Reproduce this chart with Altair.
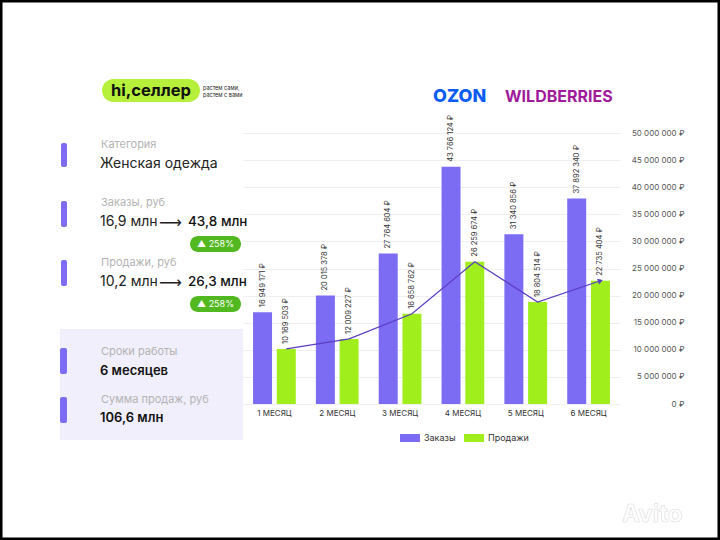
import altair as alt
import pandas as pd

months = ["1 МЕСЯЦ", "2 МЕСЯЦ", "3 МЕСЯЦ", "4 МЕСЯЦ", "5 МЕСЯЦ", "6 МЕСЯЦ"]
series_names = ["Заказы", "Продажи"]
orders = [16949171, 20015378, 27764604, 43766124, 31340856, 37892340]
sales = [10169503, 12009227, 16658762, 26259674, 18804514, 22735404]
y_ticks = [0, 5000000, 10000000, 15000000, 20000000, 25000000,
           30000000, 35000000, 40000000, 45000000, 50000000]


def rub(v):
    return f"{v:,}".replace(",", " ") + " ₽"


rows = []
for m, o, s in zip(months, orders, sales):
    rows.append(dict(month=m, series="Заказы", value=o, label=rub(o)))
    rows.append(dict(month=m, series="Продажи", value=s, label=rub(s)))
df = pd.DataFrame(rows)
sales_df = df[df.series == "Продажи"].reset_index(drop=True)
last_df = sales_df.tail(1)
one = pd.DataFrame({"a": [0]})

PURPLE = "#7b6cf3"
GREEN = "#a0ef1c"
LINE = "#5a3dc2"
FONT = "Inter"
OX, OY = 243, 133  # plot origin in page pixels

x = alt.X("month:N", sort=months,
          scale=alt.Scale(paddingInner=0.32, paddingOuter=0.16),
          axis=alt.Axis(title=None, labelAngle=0, ticks=False, domain=False,
                        labelFontSize=8, labelColor="#333", labelPadding=5,
                        labelFont=FONT, grid=False))
xo = alt.XOffset("series:N", sort=series_names, scale=alt.Scale(paddingInner=0.2))
y = alt.Y("value:Q", scale=alt.Scale(domain=[0, 50000000], nice=False),
          axis=alt.Axis(orient="right", values=y_ticks, title=None, ticks=False,
                        domain=False, gridColor="#efefef", gridWidth=1,
                        labelExpr="replace(format(datum.value, ','), /,/g, ' ') + ' ₽'",
                        labelAlign="right", labelPadding=64, labelFontSize=8,
                        labelColor="#555", labelFont=FONT))
color = alt.Color("series:N", scale=alt.Scale(domain=series_names, range=[PURPLE, GREEN]),
                  legend=alt.Legend(orient="none", legendX=157, legendY=295,
                                    direction="horizontal", title=None,
                                    symbolType="M-1,-0.4H1V0.4H-1Z", symbolSize=400,
                                    symbolStrokeWidth=0, labelFontSize=9,
                                    labelColor="#333", labelFont=FONT,
                                    columnPadding=8, labelOffset=4))


def txt(s, px, py, size, color="#222", weight="normal", align="left", font=FONT):
    return alt.Chart(one).mark_text(
        text=s, align=align, baseline="middle", fontSize=size, color=color,
        fontWeight=weight, font=font
    ).encode(x=alt.value(px - OX), y=alt.value(py - OY))


def box(x1, x2, y1, y2, color, radius=0):
    return alt.Chart(one).mark_rect(color=color, cornerRadius=radius).encode(
        x=alt.value(x1 - OX), x2=alt.value(x2 - OX),
        y=alt.value(y1 - OY), y2=alt.value(y2 - OY))


bars = alt.Chart(df).mark_bar().encode(x=x, xOffset=xo, y=y, color=color)
labels = alt.Chart(df).mark_text(angle=270, align="left", baseline="middle", dx=5,
                                 fontSize=7.5, color="#333", font=FONT).encode(
    x=x, xOffset=xo, y=y, text="label:N")
line = alt.Chart(sales_df).mark_line(color=LINE, strokeWidth=1.2).encode(
    x=x, xOffset=xo, y=y)
arrow = alt.Chart(last_df).mark_point(shape="triangle-right", filled=True, size=35,
                                      angle=341, color=LINE, opacity=1).encode(
    x=x, xOffset=xo, y=y)

deco = [
    box(60, 243, 329, 440, "#f1effc"),
    box(102, 200, 79, 102, "#b6f03a", 11.5),
    txt("hi,селлер", 111, 91, 16.5, "#111", "bold"),
    txt("растем сами,", 203, 88, 5.5, "#222"),
    txt("растем с вами", 203, 95, 5.5, "#222"),
    txt("OZON", 433, 97, 18, "#0a5cf5", 800),
    txt("WILDBERRIES", 505, 97, 16, "#a11a9c", "bold"),
    box(61, 67, 143, 167, PURPLE, 2),
    box(61, 67, 201, 227, PURPLE, 2),
    box(61, 67, 260, 286, PURPLE, 2),
    box(60, 67, 348, 374, PURPLE, 2),
    box(60, 67, 397, 423, PURPLE, 2),
    txt("Категория", 101, 145, 11, "#b3b3b3"),
    txt("Женская одежда", 100, 164, 14, "#222"),
    txt("Заказы, руб", 101, 203, 11, "#b3b3b3"),
    txt("16,9 млн", 100, 222, 14, "#222"),
    txt("⟶", 159, 223, 16, "#222", font="DejaVu Sans"),
    txt("43,8 млн", 188, 222, 13.5, "#111", 500),
    box(190, 241, 236, 252, "#52b81f", 8),
    txt("▲ 258%", 215.5, 244, 9, "#ffffff", align="center"),
    txt("Продажи, руб", 101, 263, 11, "#b3b3b3"),
    txt("10,2 млн", 100, 282, 14, "#222"),
    txt("⟶", 159, 283, 16, "#222", font="DejaVu Sans"),
    txt("26,3 млн", 188, 282, 13.5, "#111", 500),
    box(190, 241, 296, 312, "#52b81f", 8),
    txt("▲ 258%", 215.5, 304, 9, "#ffffff", align="center"),
    txt("Сроки работы", 101, 352, 11, "#b3b3b3"),
    txt("6 месяцев", 100, 371, 13, "#111", 600),
    txt("Сумма продаж, руб", 101, 400, 11, "#b3b3b3"),
    txt("106,6 млн", 100, 418, 13, "#111", 600),
    alt.Chart(one).mark_text(text="Avito", align="left", baseline="middle", fontSize=24,
                             fontWeight="bold", font=FONT, fill="#ffffff",
                             stroke="#dcdcdc", strokeWidth=0.6).encode(
        x=alt.value(622 - OX), y=alt.value(515 - OY)),
    alt.Chart(one).mark_rect(filled=False, stroke="#000000", strokeWidth=5).encode(
        x=alt.value(0 - OX), x2=alt.value(720 - OX),
        y=alt.value(0 - OY), y2=alt.value(540 - OY)),
]

chart = alt.layer(deco[0], bars, labels, line, arrow, *deco[1:]).properties(
    width=377, height=271,
    padding={"left": OX, "top": OY, "right": 100, "bottom": 136},
    autosize=alt.AutoSizeParams(type="none"),
    background="#ffffff",
).configure_view(stroke=None)

chart.save("out.html", embed_options={"renderer": "svg", "actions": False})
